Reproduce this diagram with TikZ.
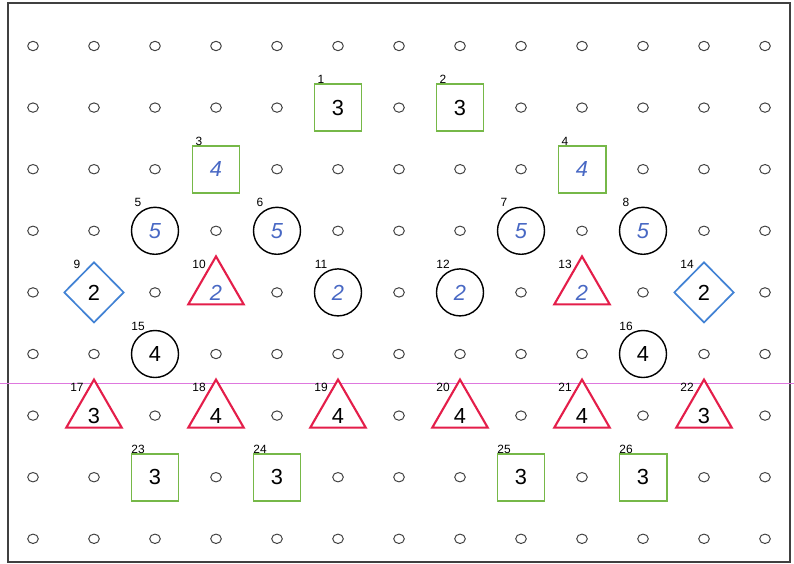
\documentclass[tikz,border=0pt]{standalone}
\usepackage{fontspec}
\setmainfont{Liberation Sans}
\usetikzlibrary{shapes.geometric}
\definecolor{sqgreen}{RGB}{118,184,72}
\definecolor{trired}{RGB}{228,30,74}
\definecolor{dmblue}{RGB}{66,130,212}
\definecolor{hintblue}{RGB}{72,104,196}
\definecolor{scanpink}{RGB}{222,120,222}
\tikzset{
  peg/.style={draw=black!75,line width=0.7pt},
  sq/.style={draw=sqgreen,line width=1.4pt,fill=white,minimum size=1.175cm,inner sep=0},
  rnd/.style={draw=black,line width=1pt,fill=white,circle,minimum size=1.175cm,inner sep=0},
  tri/.style={draw=trired,line width=1.5pt,fill=white,regular polygon,regular polygon sides=3,
              minimum size=1.6cm,inner sep=0,yshift=1mm},
  dia/.style={draw=dmblue,line width=1.2pt,fill=white,diamond,minimum width=1.5cm,
              minimum height=1.52cm,inner sep=0},
  num/.style={font=\fontsize{15.5}{15.5}\selectfont,inner sep=0},
  idx/.style={font=\fontsize{8.5}{8.5}\selectfont,inner sep=0}
}
\newcommand{\hint}[1]{\textcolor{hintblue}{\itshape #1}}
\newcommand{\piece}[5]{% col, row, style, index, number
  \node[#3] (p#4) at ({33+61*#1},{46+61.6*#2}) {};
  \node[num] (n#4) at ({33+61*#1},{46+61.6*#2}) {#5};
  \node[idx] (i#4) at ([shift={(-17,-28)}]n#4.center) {#4};}

\begin{document}
\begin{tikzpicture}[x=0.025cm,y=-0.025cm]
  \useasboundingbox (0,0) rectangle (794,564);
  % frame and scan line
  \draw[black!75,line width=0.9pt] (8,3) rectangle (790,562);
  \draw[scanpink,line width=0.6pt] (0,383) -- (794,383);
  % peg grid, 13 x 9
  \foreach \c in {0,...,12}
    \foreach \r in {0,...,8}
      \draw[peg] ({33+61*\c},{46+61.6*\r}) ellipse (5.3 and 4.7);
  % squares
  \piece{5}{1}{sq}{1}{3}
  \piece{7}{1}{sq}{2}{3}
  \piece{3}{2}{sq}{3}{\hint{4}}
  \piece{9}{2}{sq}{4}{\hint{4}}
  % circles
  \piece{2}{3}{rnd}{5}{\hint{5}}
  \piece{4}{3}{rnd}{6}{\hint{5}}
  \piece{8}{3}{rnd}{7}{\hint{5}}
  \piece{10}{3}{rnd}{8}{\hint{5}}
  % row of twos
  \piece{1}{4}{dia}{9}{2}
  \piece{3}{4}{tri}{10}{\hint{2}}
  \piece{5}{4}{rnd}{11}{\hint{2}}
  \piece{7}{4}{rnd}{12}{\hint{2}}
  \piece{9}{4}{tri}{13}{\hint{2}}
  \piece{11}{4}{dia}{14}{2}
  \piece{2}{5}{rnd}{15}{4}
  \piece{10}{5}{rnd}{16}{4}
  % triangles
  \piece{1}{6}{tri}{17}{3}
  \piece{3}{6}{tri}{18}{4}
  \piece{5}{6}{tri}{19}{4}
  \piece{7}{6}{tri}{20}{4}
  \piece{9}{6}{tri}{21}{4}
  \piece{11}{6}{tri}{22}{3}
  % bottom squares
  \piece{2}{7}{sq}{23}{3}
  \piece{4}{7}{sq}{24}{3}
  \piece{8}{7}{sq}{25}{3}
  \piece{10}{7}{sq}{26}{3}
\end{tikzpicture}
\end{document}
